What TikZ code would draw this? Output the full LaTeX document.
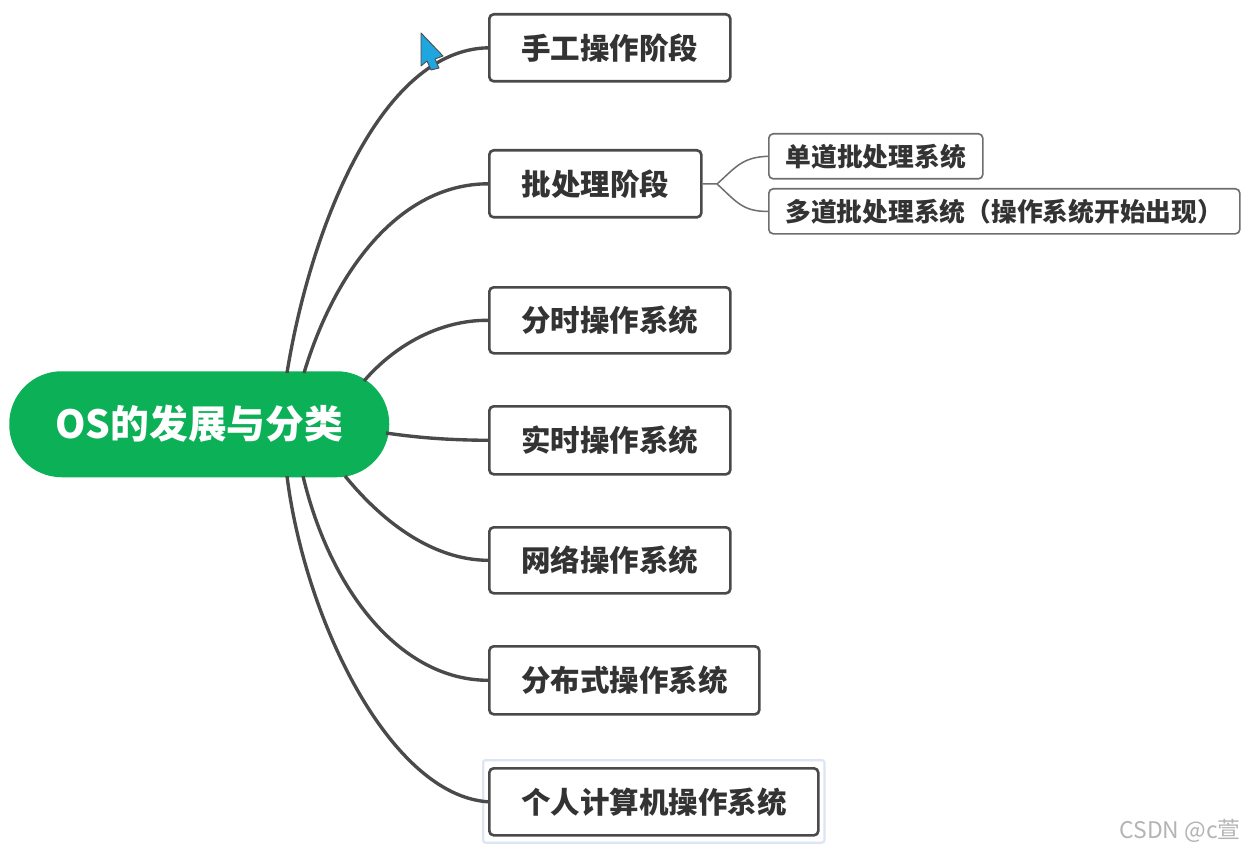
\documentclass[tikz,border=0pt]{standalone}
\usepackage{fontspec}
\setmainfont{Noto Sans CJK SC}
\begin{document}
\begin{tikzpicture}[x=0.8pt,y=-0.8pt,
  mainbox/.style={draw=boxline,line width=2.1pt,rounded corners=3.5pt,fill=white,inner sep=0pt,anchor=north west,font=\fontsize{23.6}{28}\selectfont\bfseries,text=txt,align=center},
  subbox/.style={draw=subline,line width=1.3pt,rounded corners=3.5pt,fill=white,inner sep=0pt,anchor=north west,font=\fontsize{20.6}{24}\selectfont\bfseries,text=txt,align=left},
  rootbox/.style={fill=rootgreen,rounded corners=42pt,inner sep=0pt,anchor=north west,font=\fontsize{31}{36}\selectfont\bfseries,text=white},
  branch/.style={draw=boxline,line width=2.7pt},
  twig/.style={draw=subline,line width=1.2pt}]
\definecolor{boxline}{HTML}{4A4A4A}
\definecolor{subline}{HTML}{6E6E6E}
\definecolor{txt}{HTML}{333333}
\definecolor{rootgreen}{HTML}{0BB057}
\definecolor{halo}{HTML}{DCE6F2}
\definecolor{cursorblue}{HTML}{1FA6DE}
\definecolor{mark}{HTML}{B4B4B4}
\useasboundingbox (0,0) rectangle (1246,850);
\fill[white] (0,0) rectangle (1246,850);
% connection points on the root
\coordinate (r1) at (287,373);
\coordinate (r2) at (304,373);
\coordinate (r3) at (364,381);
\coordinate (r4) at (386,433);
\coordinate (r5) at (345,476);
\coordinate (r6) at (303,476);
\coordinate (r7) at (287,476);
\coordinate (j) at (717,184);
% highlight of selected box
\node[draw=halo,fill=white,line width=1.8pt,rounded corners=2pt,minimum width=273pt,minimum height=66pt,inner sep=0pt,anchor=north west] (sel) at (482,759) {};
% boxes
\node[mainbox,minimum width=192.8pt,minimum height=53.6pt] (a) at (488,13) {手工操作阶段};
\node[mainbox,minimum width=169.6pt,minimum height=53.6pt] (b) at (488,149) {批处理阶段};
\node[mainbox,minimum width=192.8pt,minimum height=52.8pt] (c) at (488,286) {分时操作系统};
\node[mainbox,minimum width=192.8pt,minimum height=54.4pt] (d) at (488,405) {实时操作系统};
\node[mainbox,minimum width=192.8pt,minimum height=52.8pt] (e) at (488,526) {网络操作系统};
\node[mainbox,minimum width=216pt,minimum height=54.4pt] (f) at (488,645) {分布式操作系统};
\node[mainbox,minimum width=263.2pt,minimum height=53.6pt] (g) at (488,767) {个人计算机操作系统};
\node[subbox,minimum width=171.2pt,minimum height=36pt] (s1) at (768,133) {单道批处理系统};
\node[subbox,minimum width=376.8pt,minimum height=36pt] (s2) at (768,188) {多道批处理系统（操作系统开始出现）};
\node[rootbox,minimum width=304pt,minimum height=84.8pt] (root) at (9,371) {OS的发展与分类};
% connectors
\draw[branch] (r1) .. controls (310,230) and (380,50) .. (a.west);
\draw[branch] (r2) .. controls (335,270) and (400,184) .. (b.west);
\draw[branch] (r3) .. controls (395,345) and (440,320) .. (c.west);
\draw[branch] (r4) .. controls (420,438) and (450,440) .. (d.west);
\draw[branch] (r5) .. controls (385,525) and (435,560) .. (e.west);
\draw[branch] (r6) .. controls (330,590) and (400,680) .. (f.west);
\draw[branch] (r7) .. controls (305,620) and (390,795) .. (g.west);
\draw[twig] (b.east) -- (j);
\draw[twig] (j) .. controls (735,168) and (742,157) .. (s1.west);
\draw[twig] (j) .. controls (735,200) and (742,212) .. (s2.west);
% mouse pointer
\fill[cursorblue,draw=boxline,line width=0.7pt,line join=round] (421,33) -- (443,56) -- (435,59) -- (439,68) -- (431,70) -- (427,61) -- (421,66) -- cycle;
% watermark
\node[anchor=east,inner sep=0pt,text=mark,font=\fontsize{18.3}{21}\selectfont] (wm) at (1241,831) {CSDN @c萱};
\end{tikzpicture}
\end{document}
